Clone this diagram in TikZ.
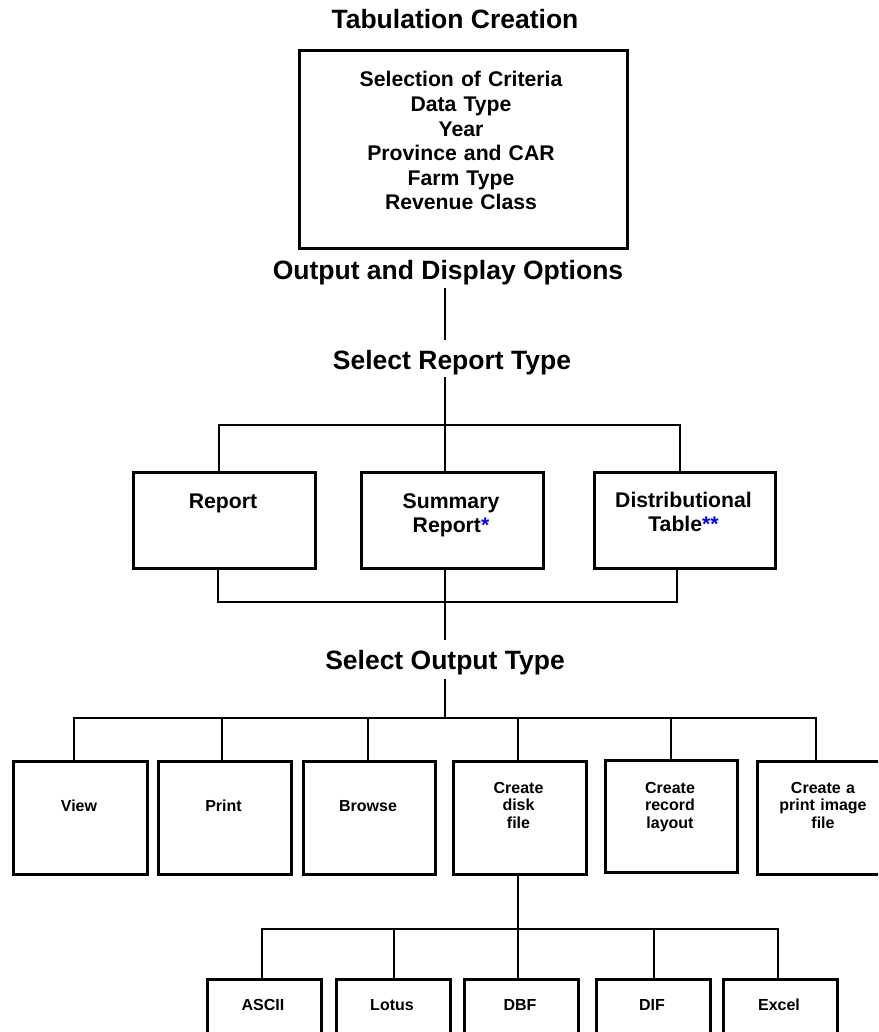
\documentclass[tikz,border=0pt]{standalone}
\usepackage{fontspec}
\setmainfont{Liberation Sans}
\begin{document}
\begin{tikzpicture}[x=1pt,y=-1pt,
  box/.style={draw, line width=2.7pt, inner sep=0pt, anchor=north west},
  conn/.style={line width=2.1pt},
  bigl/.style={inner sep=0pt, anchor=base, font=\fontsize{26.5}{30}\selectfont\bfseries},
  midl/.style={inner sep=0pt, anchor=base, text width=220pt, align=center, font=\fontsize{21.2}{24.6}\selectfont\bfseries},
  smll/.style={inner sep=0pt, anchor=base, text width=130pt, align=center, font=\fontsize{16}{17.5}\selectfont\bfseries}]
\useasboundingbox (0,0) rectangle (878,1032);
\begin{scope}
\clip (0,0) rectangle (878,1032);
% headings
\node[bigl] (title) at (455,29) {Tabulation Creation};
\node[bigl] (odo) at (448,279) {Output and Display Options};
\node[bigl] (srt) at (452,369) {Select Report Type};
\node[bigl] (sot) at (445,669) {Select Output Type};
% criteria box
\node[box, minimum width=328pt, minimum height=198pt] (crit) at (298,49) {};
\node[midl] (critt) at (461,87) {Selection of Criteria\\Data Type\\Year\\Province and CAR\\Farm Type\\Revenue Class};
% report tier
\node[box, minimum width=182pt, minimum height=96pt] (rep) at (132,471) {};
\node[box, minimum width=182pt, minimum height=96pt] (sum) at (360,471) {};
\node[box, minimum width=181pt, minimum height=96pt] (dist) at (593,471) {};
\node[midl] (rept) at (223,508) {Report};
\node[midl] (sumt) at (451,508) {Summary\\Report\textcolor{blue}{*}};
\node[midl] (distt) at (683.5,507) {Distributional\\Table\textcolor{blue}{**}};
% output tier
\node[box, minimum width=134pt, minimum height=113pt] (view) at (12,760) {};
\node[box, minimum width=133pt, minimum height=113pt] (print) at (157,760) {};
\node[box, minimum width=132pt, minimum height=113pt] (browse) at (302,760) {};
\node[box, minimum width=133pt, minimum height=113pt] (disk) at (452,760) {};
\node[box, minimum width=132pt, minimum height=112pt] (record) at (604,759) {};
\node[box, minimum width=134pt, minimum height=113pt] (pimg) at (756,760) {};
\node[smll] (viewt) at (79,811) {View};
\node[smll] (printt) at (223.5,811) {Print};
\node[smll] (browset) at (368,811) {Browse};
\node[smll] (diskt) at (518.5,793) {Create\\disk\\file};
\node[smll] (recordt) at (670,793) {Create\\record\\layout};
\node[smll] (pimgt) at (823,793) {Create a\\print image\\file};
% file formats
\node[box, minimum width=114pt, minimum height=56pt] (ascii) at (206,978) {};
\node[box, minimum width=114pt, minimum height=56pt] (lotus) at (335,978) {};
\node[box, minimum width=114pt, minimum height=56pt] (dbf) at (463,978) {};
\node[box, minimum width=114pt, minimum height=56pt] (dif) at (595,978) {};
\node[box, minimum width=114pt, minimum height=56pt] (excel) at (722,978) {};
\node[smll] (asciit) at (263,1010) {ASCII};
\node[smll] (lotust) at (392,1010) {Lotus};
\node[smll] (dbft) at (520,1010) {DBF};
\node[smll] (dift) at (652,1010) {DIF};
\node[smll] (excelt) at (779,1010) {Excel};
% hubs
\coordinate (h1) at (445,425);
\coordinate (h2) at (445,602);
\coordinate (h3) at (445,718);
\coordinate (h4) at (518,929);
% connectors
\draw[conn, shorten <=3.4pt, shorten >=9.6pt] (odo.south -| h1) -- (srt.north -| h1);
\draw[conn, shorten <=2.4pt] (srt.south -| h1) -- (sum.north -| h1);
\draw[conn] ([xshift=-5pt]rep.north) |- (h1) -| ([xshift=-4.5pt]dist.north);
\draw[conn] ([xshift=-6pt]rep.south) |- (h2) -| ([xshift=-7.5pt]dist.south);
\draw[conn, shorten >=9.6pt] (sum.south -| h2) -- (sot.north -| h2);
\draw[conn, shorten <=4.4pt] (sot.south -| h3) -- (h3);
\draw[conn] ([xshift=-6pt]view.north) |- (h3) -| ([xshift=-8pt]pimg.north);
\draw[conn] ([xshift=-2.5pt]print.north) |- (h3);
\draw[conn] ([xshift=-1pt]browse.north) |- (h3);
\draw[conn] (disk.north -| h4) |- (h3);
\draw[conn] (record.north) |- (h3);
\draw[conn] (disk.south -| h4) -- (dbf.north -| h4);
\draw[conn] ([xshift=-2pt]ascii.north) |- (h4) -| ([xshift=-2pt]excel.north);
\draw[conn] ([xshift=1pt]lotus.north) |- (h4);
\draw[conn] ([xshift=1pt]dif.north) |- (h4);
\end{scope}
\end{tikzpicture}
\end{document}
